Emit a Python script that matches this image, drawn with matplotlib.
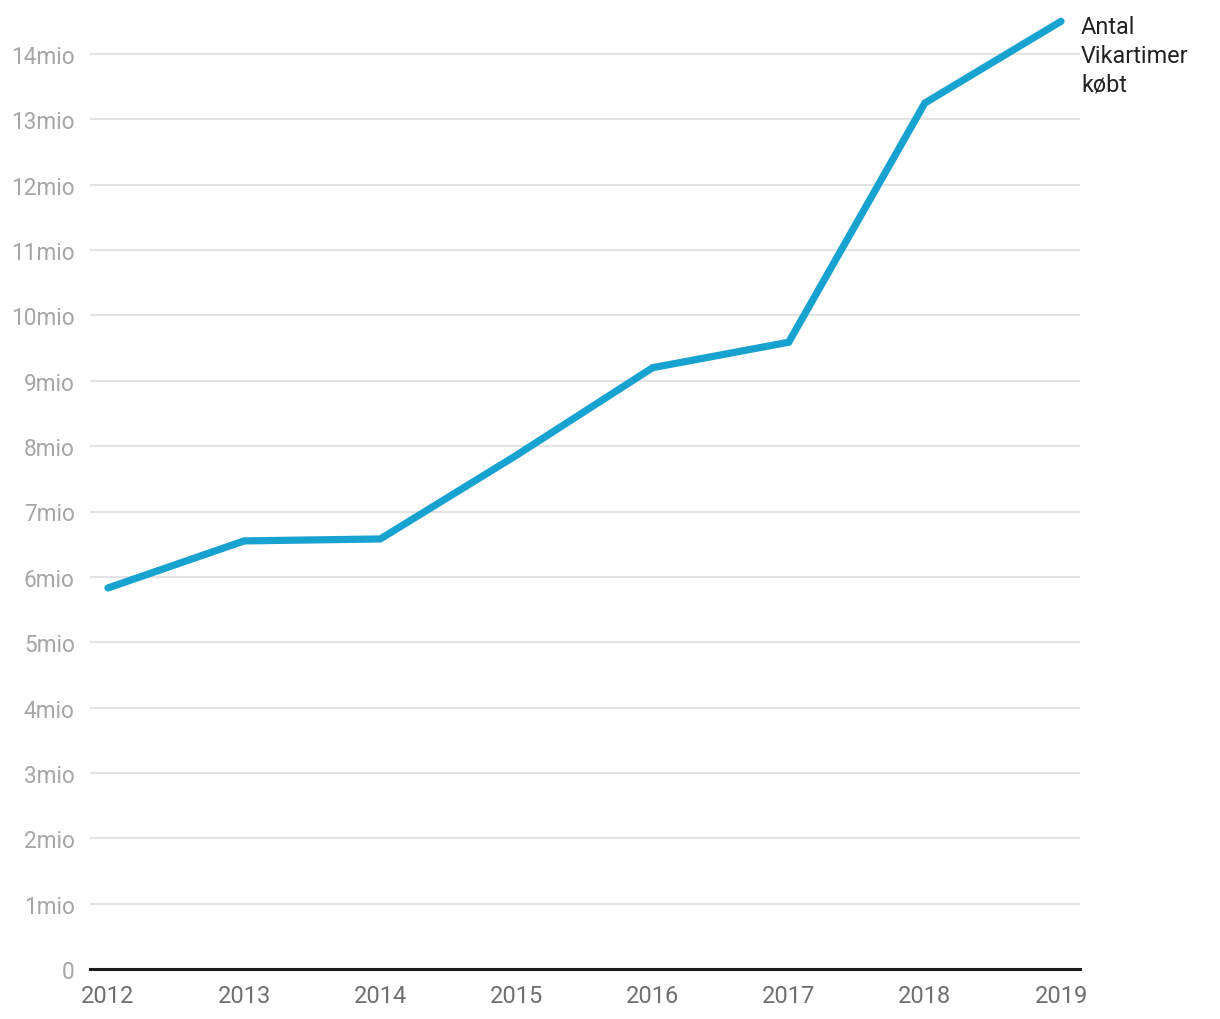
import matplotlib
matplotlib.use("Agg")
import matplotlib.pyplot as plt
from matplotlib.ticker import FuncFormatter

years = [2012, 2013, 2014, 2015, 2016, 2017, 2018, 2019]
hours_mio = [5.83, 6.55, 6.58, 7.86, 9.20, 9.59, 13.25, 14.50]
series_label = "Antal\nVikartimer\nkøbt"
yticks = list(range(0, 15))

plt.rcParams['font.family'] = ['Roboto', 'DejaVu Sans']

W, H = 1220, 1020
fig = plt.figure(figsize=(W / 100, H / 100), dpi=100)
left, right, bottom, top = 90, 1080, 970, 10
ax = fig.add_axes([left / W, 1 - bottom / H, (right - left) / W, (bottom - top) / H])

ppu = (970 - 55) / 14.0
ax.set_ylim(0, (bottom - top) / ppu)
ppy = (1061 - 108) / 7.0
ax.set_xlim(2012 - (108 - left) / ppy, 2019 + (right - 1061) / ppy)

for y in yticks[1:]:
    ax.axhline(y, color='#e3e3e3', lw=1.5, zorder=1)

ax.plot(years, hours_mio, color='#17a2cf', lw=5.2, solid_capstyle='round',
        solid_joinstyle='miter', zorder=3, clip_on=False)

for s in ['top', 'right', 'left']:
    ax.spines[s].set_visible(False)
ax.spines['bottom'].set_color('#1a1a1a')
ax.spines['bottom'].set_linewidth(2.2)
ax.spines['bottom'].set_zorder(4)

ax.set_yticks(yticks)
ax.yaxis.set_major_formatter(FuncFormatter(lambda v, p: "0" if v == 0 else f"{int(v)}mio"))
ax.set_xticks(years)
ax.set_xticklabels([str(y) for y in years])
ax.tick_params(axis='y', length=0, pad=11, labelsize=16.3, labelcolor='#a6a6a6')
ax.tick_params(axis='x', length=0, pad=11, labelsize=17, labelcolor='#6f6f6f')

ax.text(1081 / W, 1 - 16 / H, series_label, transform=fig.transFigure,
        ha='left', va='top', fontsize=16.8, color='#222222', linespacing=1.33)

fig.savefig("out.png", dpi=100)
